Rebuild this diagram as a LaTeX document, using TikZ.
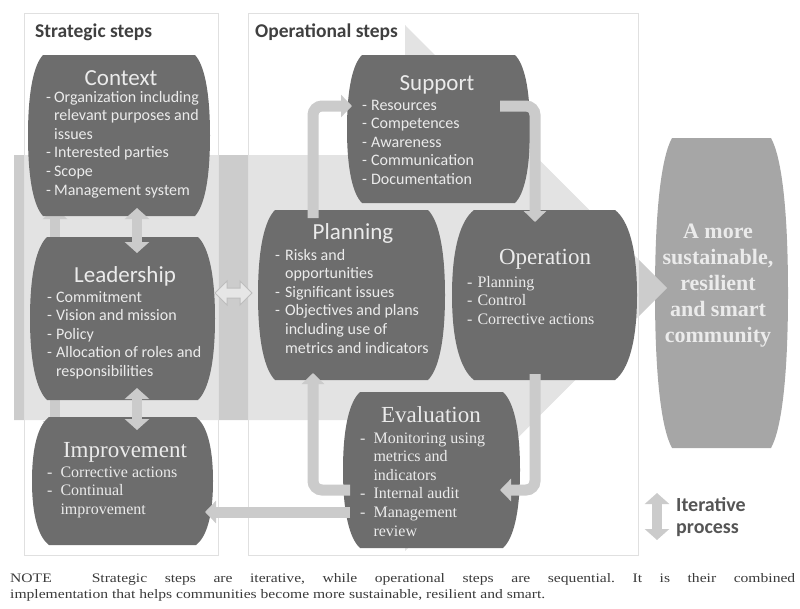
\documentclass[tikz,border=0pt]{standalone}
\usepackage{fontspec}
\setmainfont{Carlito}
\newfontfamily\seriffont{Liberation Serif}
\newfontfamily\notefont[FakeStretch=1.2]{Liberation Serif}
\usetikzlibrary{arrows.meta,calc}
\definecolor{nodegray}{HTML}{6D6D6D}
\definecolor{goalgray}{HTML}{A6A6A6}
\definecolor{bigarrow}{HTML}{CCCCCC}
\definecolor{connc}{HTML}{CBCBCB}
\definecolor{boxline}{HTML}{E0E0E0}
\definecolor{labelc}{HTML}{404040}
\definecolor{txtc}{HTML}{EBEBEB}
\definecolor{notec}{HTML}{3A3A3A}
\definecolor{legc}{HTML}{555555}
\definecolor{outarrow}{HTML}{E6E6E6}
\definecolor{outline}{HTML}{BDBDBD}

\newcommand\barrel[3]{%
 \fill[#3] let \p1=(#1.north west), \p2=(#1.south east), \n1={(\y1-\y2)*0.22}, \n2={(\y1-\y2)*0.06} in
 (\x1+#2pt,\y1) -- (\x2-#2pt,\y1)
 .. controls (\x2-0.4*#2pt,\y1-\n2) and (\x2,\y1-\n1) .. (\x2,{(\y1+\y2)/2})
 .. controls (\x2,\y2+\n1) and (\x2-0.4*#2pt,\y2+\n2) .. (\x2-#2pt,\y2)
 -- (\x1+#2pt,\y2)
 .. controls (\x1+0.4*#2pt,\y2+\n2) and (\x1,\y2+\n1) .. (\x1,{(\y1+\y2)/2})
 .. controls (\x1,\y1-\n1) and (\x1+0.4*#2pt,\y1-\n2) .. (\x1+#2pt,\y1) -- cycle;}

\tikzset{
 frame/.style={draw=none, inner sep=0, outer sep=0},
 conn/.style={draw=connc, line width=11pt, rounded corners=9pt, -{Triangle[width=22pt,length=11pt]}},
 iter/.style={draw=connc, line width=10pt, {Triangle[width=24pt,length=11pt]}-{Triangle[width=24pt,length=11pt]}},
 ttl/.style={text=txtc, font=\fontsize{23}{26}\selectfont, anchor=base, inner sep=0},
 ttlserif/.style={text=txtc, font=\seriffont\fontsize{23}{26}\selectfont, anchor=base, inner sep=0},
 items/.style={text=txtc, font=\fontsize{16}{18.6}\selectfont, anchor=base west, inner sep=0},
 itemsserif/.style={text=txtc, font=\seriffont\fontsize{16}{18.6}\selectfont, anchor=base west, inner sep=0},
 boxlabel/.style={text=labelc, font=\bfseries\fontsize{19.5}{22}\selectfont, anchor=base west, inner sep=0},
 legtext/.style={text=legc, font=\bfseries\fontsize{20}{22}\selectfont, anchor=base west, inner sep=0},
 notetext/.style={text=notec, font=\notefont\fontsize{13}{16}\selectfont\frenchspacing, anchor=base west, inner sep=0},
}

\begin{document}
\begin{tikzpicture}[x=1pt,y=-1pt]
\useasboundingbox (0,0) rectangle (800,608);

% invisible frames of the step shapes
\node[frame, minimum width=182, minimum height=161] (ctx)  at (119,135.5) {};
\node[frame, minimum width=185, minimum height=163] (lead) at (122.5,318.5) {};
\node[frame, minimum width=181, minimum height=128] (impr) at (122.5,481) {};
\node[frame, minimum width=183, minimum height=148] (sup)  at (438.5,129) {};
\node[frame, minimum width=187, minimum height=170] (plan) at (351.5,295) {};
\node[frame, minimum width=185, minimum height=170] (oper) at (544.5,295) {};
\node[frame, minimum width=177, minimum height=156] (eval) at (431.5,470) {};
\node[frame, minimum width=133, minimum height=310] (goal) at (721.5,293) {};

% goal shape (behind the big arrow tip)
\barrel{goal}{17}{goalgray}

% big background arrow
\fill[bigarrow] (14,155) -- (405,155) -- (405,25) -- (667,288) -- (405,551) -- (405,420) -- (14,420) -- cycle;

% the two step frames
\fill[white, fill opacity=0.45] (24,13) rectangle (218,555);
\fill[white, fill opacity=0.45] (248,13) rectangle (638,555);
\draw[boxline, line width=0.8pt] (24,13) rectangle (218,555);
\draw[boxline, line width=0.8pt] (248,13) rectangle (638,555);

\node[boxlabel] (lblS) at (35,37) {Strategic steps};
\node[boxlabel] (lblO) at (255,37) {Operational steps};

% iterative arrow behind leadership
\draw[iter] ($(ctx.south west)+(27,-8)$) -- ($(impr.north west)+(23,15)$);

% dark step shapes
\barrel{ctx}{15}{nodegray}
\barrel{lead}{17}{nodegray}
\barrel{impr}{17}{nodegray}
\barrel{sup}{15}{nodegray}
\barrel{plan}{17}{nodegray}
\barrel{oper}{22}{nodegray}
\barrel{eval}{17}{nodegray}

% iterative arrows between strategic steps
\draw[iter] ($(ctx.south)+(18,-8)$) -- ($(lead.north)+(14.5,16)$);
\draw[iter] ($(lead.south)+(14.5,-12)$) -- ($(impr.north)+(14.5,13)$);

% outlined double arrow between leadership and planning
\coordinate (lp) at (233.5,293);
\begin{scope}[shift={(lp)}]
\filldraw[fill=outarrow, draw=outline, line width=1pt]
 (-18.5,0) -- (-6.5,-12) -- (-6.5,-5) -- (6.5,-5) -- (6.5,-12) -- (18.5,0)
 -- (6.5,12) -- (6.5,5) -- (-6.5,5) -- (-6.5,12) -- cycle;
\end{scope}

% sequential arrows
\draw[conn] ($(plan.north west)+(55,8)$) |- ($(sup.north west)+(5,51)$);
\draw[conn] ($(sup.north east)+(-30,51)$) -| ($(oper.north west)+(83,12)$);
\draw[conn] ($(oper.south west)+(83,-6)$) |- ($(eval.north east)+(-20,98)$);
\draw[conn] ($(eval.north west)+(7,98)$) -| ($(plan.south west)+(55,-7)$);
\draw[conn] ($(eval.north west)+(7,120)$) -- ($(impr.north east)+(-8,95)$);

% titles
\node[ttl] (ctx-h) at (121,85) {Context};
\node[ttl] (lead-h) at (125,282) {Leadership};
\node[ttlserif] (impr-h) at (125,457) {Improvement};
\node[ttl] (sup-h) at (437,90) {Support};
\node[ttl] (plan-h) at (353,239) {Planning};
\node[ttlserif] (oper-h) at (545,264) {Operation};
\node[ttlserif] (eval-h) at (431,422) {Evaluation};

% items
\node[items] (ctx-t) at (46,102) {\begin{tabular}[t]{@{}l@{\hspace{3pt}}l@{}}-&Organization including\\&relevant purposes and\\&issues\\-&Interested parties\\-&Scope\\-&Management system\end{tabular}};
\node[items] (lead-t) at (47,302) {\begin{tabular}[t]{@{}l@{\hspace{4pt}}l@{}}-&Commitment\\-&Vision and mission\\-&Policy\\-&Allocation of roles and\\&responsibilities\end{tabular}};
\node[itemsserif] (impr-t) at (47,477) {\begin{tabular}[t]{@{}l@{\hspace{8pt}}l@{}}-&Corrective actions\\-&Continual\\&improvement\end{tabular}};
\node[items] (sup-t) at (362,110) {\begin{tabular}[t]{@{}l@{\hspace{4pt}}l@{}}-&Resources\\-&Competences\\-&Awareness\\-&Communication\\-&Documentation\end{tabular}};
\node[items] (plan-t) at (275,260) {\begin{tabular}[t]{@{}l@{\hspace{5pt}}l@{}}-&Risks and\\&opportunities\\-&Significant issues\\-&Objectives and plans\\&including use of\\&metrics and indicators\end{tabular}};
\node[itemsserif] (oper-t) at (467,287) {\begin{tabular}[t]{@{}l@{\hspace{5pt}}l@{}}-&Planning\\-&Control\\-&Corrective actions\end{tabular}};
\node[itemsserif] (eval-t) at (360,443) {\begin{tabular}[t]{@{}l@{\hspace{8pt}}l@{}}-&Monitoring using\\&metrics and\\&indicators\\-&Internal audit\\-&Management\\&review\end{tabular}};

% goal text
\node[text=txtc, font=\seriffont\bfseries\fontsize{22}{26}\selectfont, align=center, inner sep=0] (goal-t) at (718,286) {A more\\sustainable,\\resilient\\and smart\\community};

% legend
\coordinate (legA) at (657,493);
\coordinate (legB) at (657,540);
\draw[iter] (legA) -- (legB);
\node[legtext] (leg1) at (676,511) {Iterative};
\node[legtext] (leg2) at (676,533) {process};

% note
\node[notetext] (note1) at (10,582) {\makebox[785pt][s]{NOTE\hspace{40pt}Strategic steps are iterative, while operational steps are sequential. It is their combined}};
\node[notetext] (note2) at (10,598) {implementation that helps communities become more sustainable, resilient and smart.};
\end{tikzpicture}
\end{document}
